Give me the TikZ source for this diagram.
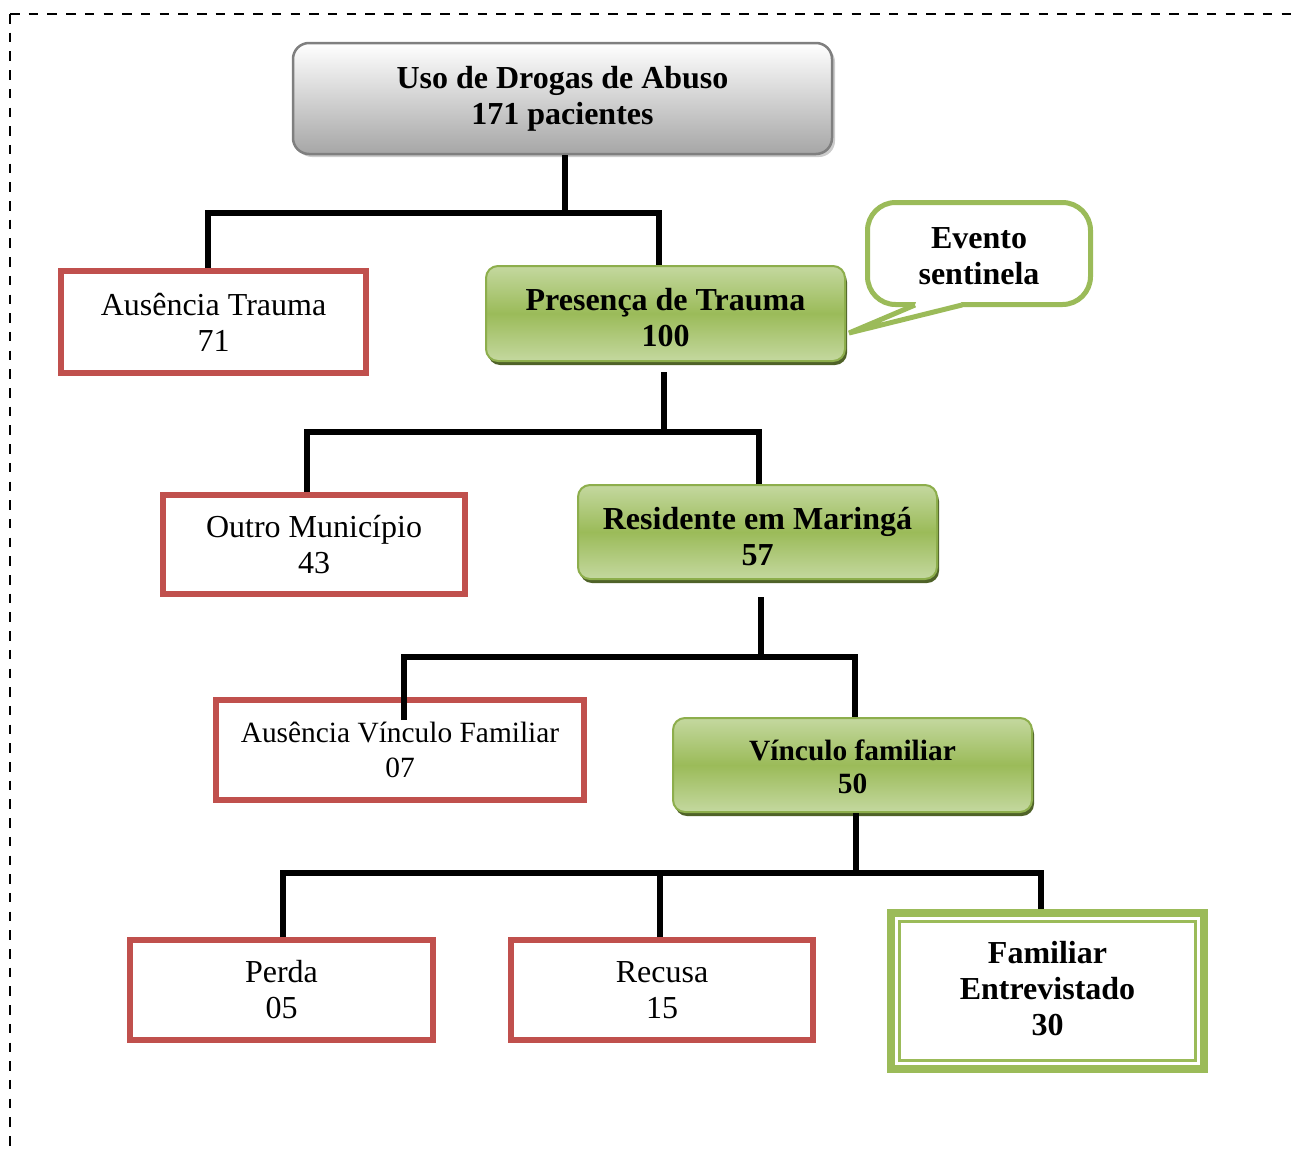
\documentclass[tikz,border=0pt]{standalone}
\usepackage{fontspec}
\setmainfont{Liberation Serif}
\usetikzlibrary{shadows}
\definecolor{redB}{HTML}{C0504D}
\definecolor{greenB}{HTML}{9BBB59}
\definecolor{greenD}{HTML}{8DAE4C}
\definecolor{greenL}{HTML}{C4D89F}
\definecolor{greenS}{HTML}{4F6228}
\definecolor{grayB}{HTML}{7F7F7F}
\definecolor{grayF}{HTML}{A6A6A6}
\tikzset{
  txt/.style={font=\fontsize{32}{36}\selectfont, align=center, inner sep=0pt},
  lblB/.style={font=\fontsize{32}{36}\selectfont\bfseries, align=center, inner sep=0pt},
  redbox/.style={txt, draw=redB, line width=6pt, fill=white},
  greenbox/.style={txt, font=\fontsize{32}{36}\selectfont\bfseries, draw=greenD, line width=2pt,
    rounded corners=12pt, top color=greenL, bottom color=greenL, middle color=greenB,
    drop shadow={shadow xshift=2pt, shadow yshift=-4pt, fill=greenS, opacity=1},
    minimum width=359pt, minimum height=94pt},
  topbox/.style={txt, font=\fontsize{32}{36}\selectfont\bfseries, draw=grayB, line width=2.5pt,
    rounded corners=16pt, top color=white, bottom color=grayF,
    drop shadow={shadow xshift=3pt, shadow yshift=-3pt, fill=gray!40, opacity=1},
    minimum width=539pt, minimum height=111pt},
  calloutbox/.style={txt, font=\fontsize{32}{36}\selectfont\bfseries, draw=greenB, line width=5pt,
    rounded corners=28pt, fill=white, minimum width=223pt, minimum height=102pt},
  finalbox/.style={txt, font=\fontsize{32}{36}\selectfont\bfseries, draw=greenB, line width=8pt,
    fill=white, minimum width=313pt, minimum height=156pt},
  conn/.style={line width=6pt, line join=miter, black},
  border/.style={line width=2.6pt, dash pattern=on 9.5pt off 9.2pt}
}
\begin{document}
\begin{tikzpicture}[x=1pt,y=-1pt]
\useasboundingbox (0,0) rectangle (1299,1151);
% dashed frame
\draw[border] (10,14) -- (1299,14);
\draw[border] (10,14) -- (10,1151);

% nodes
\node[topbox] (top) at (562.5,98.5) {Uso de Drogas de Abuso\\171 pacientes};
\node[redbox, minimum width=305pt, minimum height=102pt] (ausT) at (213.5,322) {Ausência Trauma\\71};
\node[greenbox, minimum width=359pt, minimum height=95pt,
  label={[lblB, yshift=-4pt]center:{Presença de Trauma\\100}}] (pres) at (665.5,313.5) {};
\node[calloutbox, label={[lblB, yshift=-3pt]center:{Evento\\sentinela}}] (ev) at (979,253.5) {};
\node[redbox, minimum width=302pt, minimum height=99pt] (outro) at (314,544.5) {Outro Município\\43};
\node[greenbox, label={[lblB, yshift=-4.5pt]center:{Residente em Maringá\\57}}] (resid) at (757.5,532) {};
\node[redbox, minimum width=368pt, minimum height=100pt, font=\fontsize{29.4}{35}\selectfont] (ausV) at (400,750) {Ausência Vínculo Familiar\\07};
\node[greenbox, label={[lblB, font=\fontsize{29.4}{32.5}\selectfont\bfseries, yshift=-2pt]center:{Vínculo familiar\\50}}] (vinc) at (852.5,765) {};
\node[redbox, minimum width=303pt, minimum height=100pt] (perda) at (281.5,990) {Perda\\05};
\node[redbox, minimum width=302pt, minimum height=100pt] (recusa) at (662,990) {Recusa\\15};
\node[finalbox, label={[lblB, yshift=2.5pt]center:{Familiar\\Entrevistado\\30}}] (fam) at (1047.5,991) {};
\draw[greenB, line width=2.6pt] ([xshift=12.5pt,yshift=-12.5pt]fam.north west) rectangle ([xshift=-12.5pt,yshift=12.5pt]fam.south east);

% callout tail
\fill[white] (917,300) -- (960,300) -- (962,305) -- (849,333) -- (915,305) -- cycle;
\draw[greenB, line width=5pt] (915,305) -- (849,333) -- (962,305);

% junctions
\coordinate (j1) at (565,213);
\coordinate (j2) at (664,432);
\coordinate (j3) at (761,657);
\coordinate (j4) at (856,873);

% level 1
\draw[conn] ([xshift=2.5pt]top.south) -- (j1);
\draw[conn] ([xshift=-5.5pt]ausT.north) |- (j1) -| ([xshift=-6.5pt]pres.north);
% level 2
\draw[conn] ([xshift=-1.5pt,yshift=-10pt]pres.south) -- (j2);
\draw[conn] ([xshift=-7pt]outro.north) |- (j2) -| ([xshift=1.5pt]resid.north);
% level 3
\draw[conn] ([xshift=3.5pt,yshift=-17pt]resid.south) -- (j3);
\draw[conn] ([xshift=4pt,yshift=-23pt]ausV.north) |- (j3) -| ([xshift=2.5pt]vinc.north);
% level 4
\draw[conn] ([xshift=3.5pt]vinc.south) -- (j4);
\draw[conn] ([xshift=1.5pt]perda.north) |- (j4) -| ([xshift=-6.5pt]fam.north);
\coordinate (rn) at ([xshift=-2pt]recusa.north);
\draw[conn] (rn) -- (rn |- j4);
\end{tikzpicture}
\end{document}
